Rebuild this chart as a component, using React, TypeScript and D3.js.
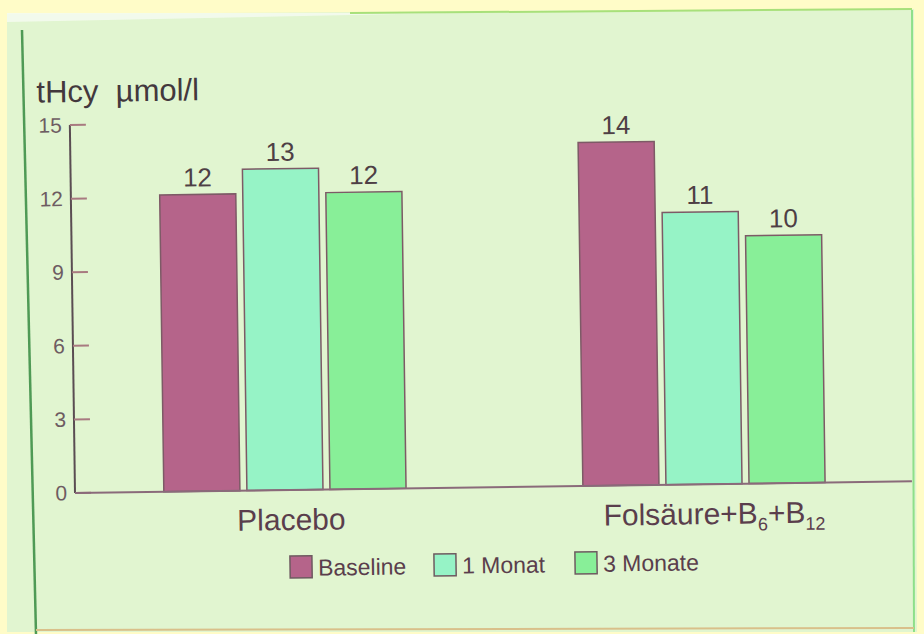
import React from "react";
import * as d3 from "d3";

const categories = ["Placebo", "Folsäure+B6+B12"];
const seriesNames = ["Baseline", "1 Monat", "3 Monate"];
const placeboValues = [12.1, 13.1, 12.1];
const folateValues = [14.0, 11.1, 10.1];
const placeboLabels = ["12", "13", "12"];
const folateLabels = ["14", "11", "10"];
const yTicks = [0, 3, 6, 9, 12, 15];
const seriesColors = ["#b5648a", "#96f3c6", "#88ef98"];

const W = 924;
const H = 634;

export default function App() {
  const y = d3.scaleLinear().domain([0, 15]).range([493, 125]);
  const x0 = d3
    .scaleBand<string>()
    .domain(categories)
    .range([75, 914])
    .paddingInner(0.422)
    .paddingOuter(0.212);
  const x1 = d3
    .scaleBand<string>()
    .domain(seriesNames)
    .range([0, x0.bandwidth()])
    .paddingInner(0.084);

  const groups = [
    { cat: categories[0], values: placeboValues, labels: placeboLabels },
    { cat: categories[1], values: folateValues, labels: folateLabels },
  ];

  const font = "'Liberation Sans', Arial, Helvetica, sans-serif";

  return (
    <svg
      width={W}
      height={H}
      style={{ position: "absolute", left: 0, top: 0, display: "block" }}
      fontFamily={font}
    >
      <rect x={0} y={0} width={W} height={H} fill="#fffcc8" />
      {/* panel */}
      <polygon points="7,14 914,9 917,632 7,632" fill="#e1f5d0" />
      <polygon points="7,13 350,13 600,10 7,22" fill="#f4fbee" opacity={0.9} />
      <line x1={22} y1={30} x2={36} y2={634} stroke="#4f9a55" strokeWidth={2.5} />
      <line x1={912} y1={10} x2={914} y2={632} stroke="#8ee08a" strokeWidth={2} />
      <line x1={350} y1={13} x2={912} y2={9} stroke="#a8e07a" strokeWidth={2} />
      <line x1={36} y1={630} x2={914} y2={628} stroke="#d9c08a" strokeWidth={2} />

      <g transform="rotate(-0.8, 75, 493)">
        {/* title */}
        <text x={42} y={102} fontSize={31} fill="#43383d">
          tHcy{"\u00a0\u00a0"}µmol/l
        </text>

        {/* y axis */}
        <line x1={75} y1={y(15)} x2={75} y2={y(0)} stroke="#5a4d52" strokeWidth={2} />
        {yTicks.map((t) => (
          <g key={t}>
            <line
              x1={75}
              x2={91}
              y1={y(t)}
              y2={y(t)}
              stroke="#a87a80"
              strokeWidth={2}
            />
            <text
              x={67}
              y={y(t)}
              dy="0.35em"
              textAnchor="end"
              fontSize={21}
              fill="#6e5c62"
            >
              {t}
            </text>
          </g>
        ))}

        {/* bars */}
        {groups.map((g) => (
          <g key={g.cat} transform={`translate(${x0(g.cat)},0)`}>
            {g.values.map((v, i) => {
              const bx = x1(seriesNames[i]) as number;
              const bw = x1.bandwidth();
              return (
                <g key={i}>
                  <rect
                    x={bx}
                    y={y(v)}
                    width={bw}
                    height={y(0) - y(v)}
                    fill={seriesColors[i]}
                    stroke="#7d5a66"
                    strokeWidth={1.5}
                  />
                  <text
                    x={bx + bw / 2}
                    y={y(v) - 8}
                    textAnchor="middle"
                    fontSize={26}
                    fill="#4e3f45"
                  >
                    {g.labels[i]}
                  </text>
                </g>
              );
            })}
          </g>
        ))}

        {/* x baseline */}
        <line x1={75} y1={y(0)} x2={912} y2={y(0)} stroke="#8a6a7a" strokeWidth={2} />

        {/* category labels */}
        <text
          x={(x0(categories[0]) as number) + x0.bandwidth() / 2 + 6}
          y={533}
          textAnchor="middle"
          fontSize={30}
          fill="#5a3e4c"
        >
          Placebo
        </text>
        <text
          x={(x0(categories[1]) as number) + x0.bandwidth() / 2 + 10}
          y={533}
          textAnchor="middle"
          fontSize={30}
          fill="#5a3e4c"
        >
          Folsäure+B
          <tspan fontSize={18} dy={7}>6</tspan>
          <tspan dy={-7}>+B</tspan>
          <tspan fontSize={18} dy={7}>12</tspan>
        </text>

        {/* legend */}
        {seriesNames.map((s, i) => {
          const lx = [289, 433, 574][i];
          return (
            <g key={s}>
              <rect
                x={lx}
                y={559}
                width={22}
                height={22}
                fill={seriesColors[i]}
                stroke="#6e5a60"
                strokeWidth={1.5}
              />
              <text x={lx + 28} y={579} fontSize={23} fill="#5a3e4c">
                {s}
              </text>
            </g>
          );
        })}
      </g>
    </svg>
  );
}
